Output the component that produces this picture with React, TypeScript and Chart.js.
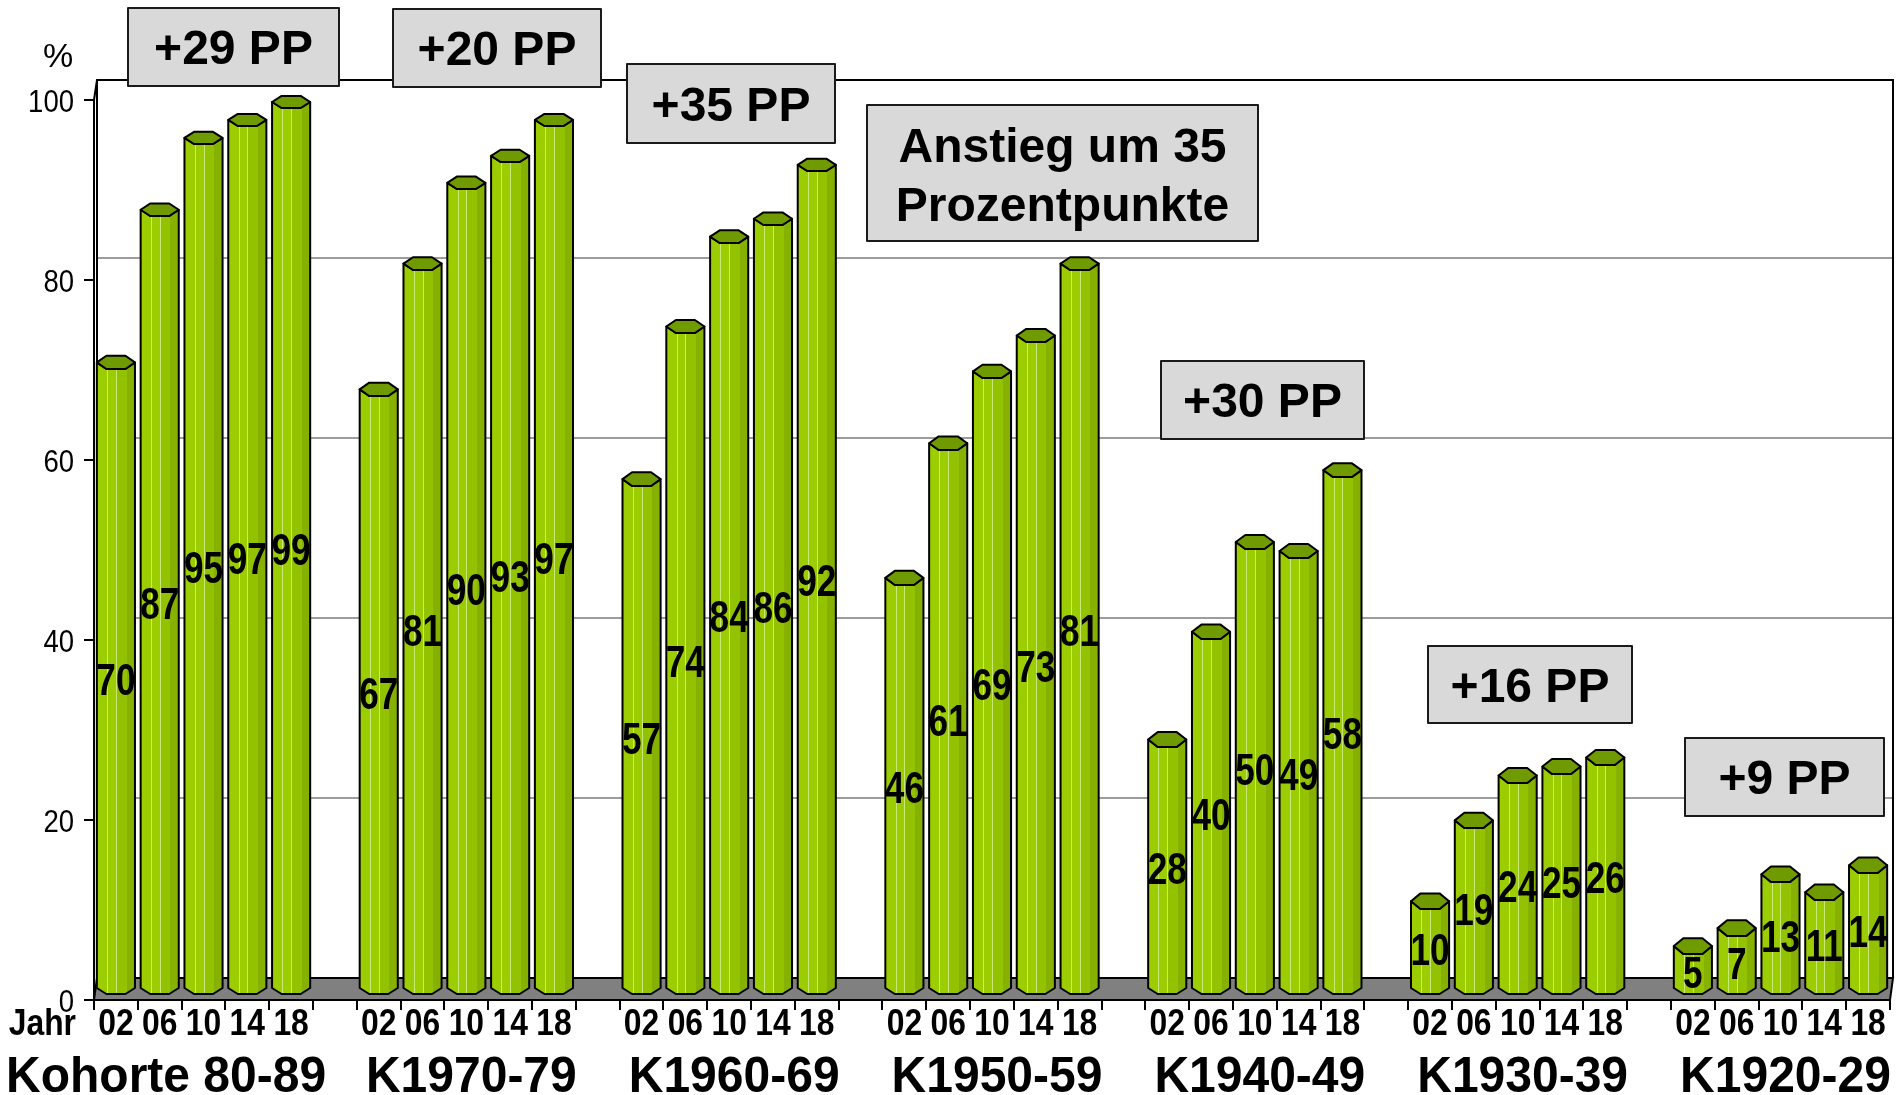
import React, { useEffect, useRef } from "react";
import { Chart, registerables } from "chart.js";

Chart.register(...registerables);

// ---------------- data ----------------
const YEARS = ["02", "06", "10", "14", "18"];
const COHORTS = ["Kohorte 80-89", "K1970-79", "K1960-69", "K1950-59", "K1940-49", "K1930-39", "K1920-29"];
const K1980_89 = [70, 87, 95, 97, 99];
const K1970_79 = [67, 81, 90, 93, 97];
const K1960_69 = [57, 74, 84, 86, 92];
const K1950_59 = [46, 61, 69, 73, 81];
const K1940_49 = [28, 40, 50, 49, 58];
const K1930_39 = [10, 19, 24, 25, 26];
const K1920_29 = [5, 7, 13, 11, 14];
const SERIES = [K1980_89, K1970_79, K1960_69, K1950_59, K1940_49, K1930_39, K1920_29];
const Y_TICKS = [0, 20, 40, 60, 80, 100];
const GRID_VALUES = [20, 40, 60, 80];
const UNIT_LABEL = "%";
const YEAR_TITLE = "Jahr";
const ANNOTATIONS = ["+29 PP", "+20 PP", "+35 PP", "Anstieg um 35\nProzentpunkte", "+30 PP", "+16 PP", "+9 PP"];

// ---------------- layout (pixels) ----------------
const W = 1897;
const H = 1095;
const BOXES = [
  [128, 8, 339, 86],
  [393, 9, 601, 87],
  [627, 64, 835, 143],
  [867, 105, 1258, 241],
  [1161, 361, 1364, 439],
  [1428, 646, 1632, 723],
  [1685, 738, 1884, 816],
];
const FONT = "'Liberation Sans', Arial, Helvetica, sans-serif";

// build category axis + values (one empty slot between cohorts)
const LABELS: string[] = [];
const VALUES: (number | null)[] = [];
const GROUP_OF: number[] = [];
SERIES.forEach((s, g) => {
  s.forEach((v, i) => {
    LABELS.push(YEARS[i]);
    VALUES.push(v);
    GROUP_OF.push(g);
  });
  if (g < SERIES.length - 1) {
    LABELS.push("");
    VALUES.push(null);
    GROUP_OF.push(-1);
  }
});

function drawText(ctx: CanvasRenderingContext2D, s: string, x: number, y: number, font: string, align: CanvasTextAlign, sx = 1) {
  ctx.save();
  ctx.translate(x, y);
  ctx.scale(sx, 1);
  ctx.font = font;
  ctx.textAlign = align;
  ctx.textBaseline = "alphabetic";
  ctx.fillStyle = "#000";
  ctx.fillText(s, 0, 0);
  ctx.restore();
}

function drawCylinder(ctx: CanvasRenderingContext2D, x: number, top: number, base: number, w: number, frac: number) {
  const L = x - w / 2;
  const R = x + w / 2;
  const q = w / 4;
  const ryT = 8 - 2 * frac;
  const cyT = top - 1 - ryT;
  const ryB = 6;
  const cyB = base - 11;

  const body = new Path2D();
  body.moveTo(L, cyT);
  body.lineTo(L, cyB);
  body.lineTo(x - q, cyB + ryB);
  body.lineTo(x + q, cyB + ryB);
  body.lineTo(R, cyB);
  body.lineTo(R, cyT);
  body.lineTo(x + q, cyT + ryT);
  body.lineTo(x - q, cyT + ryT);
  body.closePath();

  const g = ctx.createLinearGradient(L, 0, R, 0);
  g.addColorStop(0, "#9ccd00");
  g.addColorStop(0.5, "#9ccd00");
  g.addColorStop(0.5, "#93c300");
  g.addColorStop(0.78, "#93c300");
  g.addColorStop(0.78, "#86b100");
  g.addColorStop(1, "#86b100");
  ctx.fillStyle = g;
  ctx.fill(body);

  ctx.strokeStyle = "rgba(210,238,140,0.85)";
  ctx.lineWidth = 1;
  [0.27, 0.5].forEach((f) => {
    const xx = Math.round(L + f * w) + 0.5;
    ctx.beginPath();
    ctx.moveTo(xx, cyT + ryT);
    ctx.lineTo(xx, cyB + ryB);
    ctx.stroke();
  });

  ctx.lineJoin = "round";
  ctx.strokeStyle = "#000";
  ctx.lineWidth = 2;
  ctx.stroke(body);

  const cap = new Path2D();
  cap.moveTo(L, cyT);
  cap.lineTo(x - q, cyT + ryT);
  cap.lineTo(x + q, cyT + ryT);
  cap.lineTo(R, cyT);
  cap.lineTo(x + q, cyT - ryT);
  cap.lineTo(x - q, cyT - ryT);
  cap.closePath();
  ctx.fillStyle = "#6f9b00";
  ctx.fill(cap);
  ctx.stroke(cap);
  return cyB;
}

const decorPlugin = {
  id: "decor3d",
  beforeDatasetsDraw(chart: any) {
    const { ctx, chartArea: ca, scales } = chart;
    const ys = scales.y;
    const dx = 3;
    const dy = 22;
    const wallL = ca.left + dx;
    const wallR = ca.right + dx;
    const floorTop = ca.bottom - dy;
    const wallTop = ys.getPixelForValue(100) - 20;
    ctx.save();
    // back wall grid
    ctx.strokeStyle = "#9c9c9c";
    ctx.lineWidth = 2;
    GRID_VALUES.forEach((v) => {
      const py = Math.round(ys.getPixelForValue(v) - dy);
      ctx.beginPath();
      ctx.moveTo(wallL, py);
      ctx.lineTo(wallR, py);
      ctx.stroke();
    });
    // walls
    ctx.strokeStyle = "#000";
    ctx.lineWidth = 2;
    ctx.beginPath();
    ctx.moveTo(ca.left, ca.top);
    ctx.lineTo(wallL, wallTop);
    ctx.lineTo(wallR, wallTop);
    ctx.lineTo(wallR, floorTop);
    ctx.moveTo(wallL, wallTop);
    ctx.lineTo(wallL, floorTop);
    ctx.stroke();
    // floor
    ctx.beginPath();
    ctx.moveTo(wallL, floorTop);
    ctx.lineTo(wallR, floorTop);
    ctx.lineTo(ca.right, ca.bottom);
    ctx.lineTo(ca.left, ca.bottom);
    ctx.closePath();
    ctx.fillStyle = "#808080";
    ctx.fill();
    ctx.stroke();
    ctx.restore();
  },
  afterDatasetsDraw(chart: any) {
    const { ctx, chartArea: ca, scales } = chart;
    const xs = scales.x;
    const ys = scales.y;
    const meta = chart.getDatasetMeta(0);
    ctx.save();
    const mids: number[] = [];
    meta.data.forEach((el: any, i: number) => {
      const v = VALUES[i];
      if (v == null) return;
      const p = el.getProps(["x", "y", "base", "width"], true);
      const frac = (p.base - p.y) / (ca.bottom - ca.top);
      const cyB = drawCylinder(ctx, p.x, p.y, p.base, p.width, frac);
      mids[i] = (p.y + cyB) / 2;
    });
    // value labels
    meta.data.forEach((el: any, i: number) => {
      const v = VALUES[i];
      if (v == null) return;
      drawText(ctx, String(v), el.x, mids[i] + 16, "bold 44px " + FONT, "center", 0.8);
    });
    // y tick labels
    Y_TICKS.forEach((t) => {
      drawText(ctx, String(t), 74, ys.getPixelForValue(t) + 12, "32px " + FONT, "right", 0.86);
    });
    drawText(ctx, UNIT_LABEL, 58, 67, "34px " + FONT, "center", 1);
    // x tick labels
    LABELS.forEach((lab, i) => {
      if (!lab) return;
      drawText(ctx, lab, xs.getPixelForValue(i), 1035, "bold 37px " + FONT, "center", 0.86);
    });
    drawText(ctx, YEAR_TITLE, 76, 1035, "bold 37px " + FONT, "right", 0.86);
    // cohort labels
    COHORTS.forEach((c, g) => {
      const idx = GROUP_OF.indexOf(g) + 2;
      const cx = xs.getPixelForValue(idx);
      if (g === 0) {
        drawText(ctx, c, 6, 1092, "bold 50px " + FONT, "left", 0.96);
      } else {
        drawText(ctx, c, cx + 5, 1092, "bold 50px " + FONT, "center", 0.96);
      }
    });
    // annotation boxes
    ANNOTATIONS.forEach((a, k) => {
      const [x0, y0, x1, y1] = BOXES[k];
      ctx.fillStyle = "#d9d9d9";
      ctx.fillRect(x0, y0, x1 - x0, y1 - y0);
      ctx.strokeStyle = "#1a1a1a";
      ctx.lineWidth = 2;
      ctx.strokeRect(x0, y0, x1 - x0, y1 - y0);
      const lines = a.split("\n");
      const cx = (x0 + x1) / 2;
      if (lines.length === 1) {
        drawText(ctx, lines[0], cx, (y0 + y1) / 2 + 17, "bold 48px " + FONT, "center", 1);
      } else {
        drawText(ctx, lines[0], cx, y0 + 57, "bold 48px " + FONT, "center", 1);
        drawText(ctx, lines[1], cx, y0 + 116, "bold 48px " + FONT, "center", 1);
      }
    });
    ctx.restore();
  },
};

export default function App() {
  const ref = useRef<HTMLCanvasElement | null>(null);
  useEffect(() => {
    if (!ref.current) return;
    const chart = new Chart(ref.current, {
      type: "bar",
      data: {
        labels: LABELS,
        datasets: [
          {
            data: VALUES as any,
            backgroundColor: "rgba(0,0,0,0)",
            borderWidth: 0,
            barPercentage: 0.87,
            categoryPercentage: 1,
          },
        ],
      },
      options: {
        responsive: false,
        animation: false,
        devicePixelRatio: 1,
        layout: { padding: { top: 100, right: 7, left: 0, bottom: 0 } },
        plugins: { legend: { display: false }, tooltip: { enabled: false } },
        scales: {
          x: {
            type: "category",
            offset: true,
            grid: { display: true, offset: true, drawOnChartArea: false, drawTicks: true, tickLength: 10, color: "#000", lineWidth: 2 },
            border: { display: true, color: "#000", width: 2 },
            ticks: { display: false },
            afterFit: (s: any) => {
              s.height = 95;
            },
          },
          y: {
            min: 0,
            max: 100,
            ticks: { display: false, stepSize: 20 },
            grid: { display: true, drawOnChartArea: false, drawTicks: true, tickLength: 10, color: "#000", lineWidth: 2 },
            border: { display: true, color: "#000", width: 2 },
            afterFit: (s: any) => {
              s.width = 94;
            },
          },
        },
      },
      plugins: [decorPlugin],
    });
    return () => chart.destroy();
  }, []);
  return (
    <div style={{ position: "absolute", left: 0, top: 0, width: W, height: H, background: "#fff" }}>
      <canvas ref={ref} width={W} height={H} style={{ display: "block" }} />
    </div>
  );
}
